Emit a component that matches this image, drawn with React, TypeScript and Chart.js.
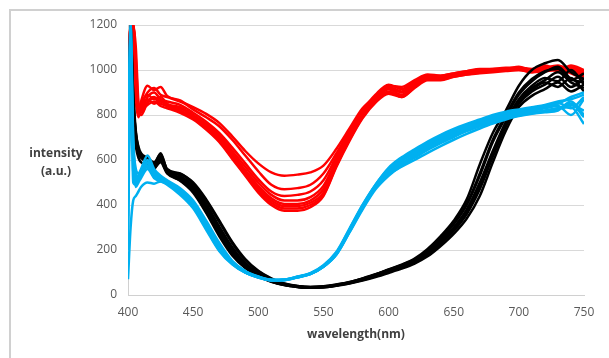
import { useEffect, useRef } from "react";
import { Chart, registerables } from "chart.js";

Chart.register(...registerables);

// Wavelength samples (nm)
const wavelengths = [400, 402, 404, 406, 408, 410, 415, 420, 425, 430, 440, 450, 460, 470, 480, 490, 500, 510, 520, 530, 540, 550, 560, 570, 580, 590, 600, 610, 620, 630, 640, 650, 660, 670, 680, 690, 700, 710, 720, 730, 740, 750];

const xTitle = "wavelength(nm)";
const yTitleLines = ["intensity", "(a.u.)"];

// Red group
const red1 = [620, 1050, 1200, 1000, 830, 850, 900, 920, 890, 880, 860, 835, 805, 765, 705, 640, 585, 545, 530, 535, 545, 575, 650, 740, 830, 880, 920, 900, 935, 965, 970, 980, 990, 995, 1000, 1005, 1010, 1000, 1015, 1010, 1005, 990];
const red2 = [900, 1200, 1150, 880, 810, 860, 930, 910, 925, 885, 865, 825, 790, 750, 690, 620, 550, 490, 470, 475, 490, 540, 630, 730, 820, 890, 935, 915, 950, 975, 975, 985, 995, 1000, 1005, 1010, 1010, 1005, 1020, 1000, 1015, 985];
const red3 = [700, 980, 1200, 1100, 860, 820, 880, 900, 870, 860, 845, 810, 770, 720, 655, 585, 515, 460, 440, 445, 460, 510, 615, 720, 815, 875, 925, 905, 945, 970, 965, 980, 990, 1000, 995, 1000, 1005, 995, 1010, 1020, 995, 970];
const red4 = [800, 1100, 1200, 950, 800, 840, 890, 870, 880, 850, 835, 800, 760, 710, 640, 570, 500, 445, 420, 420, 435, 485, 600, 710, 805, 870, 930, 925, 955, 980, 975, 985, 995, 1005, 1005, 1005, 1015, 1000, 1000, 1015, 1010, 995];
const red5 = [650, 1000, 1200, 1050, 840, 810, 860, 880, 860, 845, 830, 795, 750, 700, 630, 555, 485, 430, 405, 405, 420, 470, 590, 700, 800, 870, 915, 890, 935, 965, 960, 975, 985, 990, 995, 1000, 1000, 990, 1005, 1000, 990, 975];
const red6 = [950, 1200, 1100, 870, 790, 830, 870, 850, 865, 845, 820, 790, 745, 690, 620, 545, 475, 420, 395, 395, 410, 455, 580, 695, 795, 865, 905, 880, 925, 960, 965, 975, 985, 995, 1000, 1000, 1010, 1000, 1010, 995, 1020, 1000];
const red7 = [750, 1150, 1200, 980, 820, 800, 855, 875, 850, 840, 815, 785, 740, 685, 610, 535, 465, 410, 385, 385, 400, 445, 575, 690, 790, 860, 900, 885, 930, 965, 960, 970, 980, 990, 995, 1005, 1005, 995, 1000, 1010, 985, 960];
const red8 = [850, 1200, 1180, 900, 800, 820, 845, 860, 840, 830, 810, 780, 735, 680, 605, 530, 455, 400, 375, 375, 390, 440, 570, 685, 785, 855, 895, 880, 920, 955, 955, 970, 980, 985, 990, 995, 1000, 990, 995, 1000, 1000, 980];

// Black group
const black1 = [560, 1200, 880, 720, 660, 630, 610, 590, 625, 560, 540, 495, 420, 325, 230, 155, 105, 72, 50, 40, 36, 38, 46, 58, 74, 92, 114, 135, 162, 205, 262, 330, 425, 580, 720, 820, 930, 1000, 1030, 1045, 990, 960];
const black2 = [600, 1000, 800, 680, 630, 610, 595, 585, 600, 555, 530, 485, 405, 305, 212, 142, 96, 67, 48, 39, 35, 37, 45, 56, 72, 90, 111, 131, 157, 197, 250, 315, 400, 530, 680, 790, 890, 950, 990, 1015, 960, 945];
const black3 = [500, 1150, 900, 730, 650, 615, 590, 570, 595, 545, 515, 470, 385, 285, 195, 132, 90, 63, 46, 37, 33, 35, 43, 54, 68, 86, 106, 126, 150, 186, 235, 295, 372, 490, 630, 760, 860, 920, 955, 990, 945, 920];
const black4 = [520, 950, 820, 700, 640, 620, 600, 580, 615, 552, 522, 478, 395, 295, 203, 137, 93, 65, 47, 38, 34, 36, 44, 55, 70, 88, 108, 128, 152, 190, 240, 300, 380, 500, 640, 770, 870, 930, 965, 950, 1000, 935];
const black5 = [580, 1100, 760, 660, 610, 590, 575, 565, 590, 540, 510, 460, 370, 270, 182, 124, 85, 60, 44, 36, 32, 34, 42, 52, 66, 83, 102, 121, 145, 180, 228, 285, 360, 470, 615, 750, 850, 905, 935, 970, 925, 960];
const black6 = [540, 1050, 870, 710, 645, 618, 598, 560, 605, 548, 515, 465, 378, 278, 188, 128, 87, 61, 45, 37, 33, 35, 43, 54, 69, 86, 106, 126, 149, 184, 232, 290, 365, 480, 620, 755, 855, 910, 945, 925, 965, 905];
const black7 = [500, 900, 800, 690, 635, 612, 592, 578, 630, 558, 538, 500, 425, 332, 236, 160, 108, 74, 51, 40, 36, 39, 47, 57, 73, 91, 112, 133, 158, 198, 252, 318, 405, 540, 690, 800, 900, 960, 995, 1005, 955, 985];
const black8 = [560, 1000, 830, 700, 640, 615, 595, 572, 598, 546, 508, 455, 365, 262, 176, 120, 83, 59, 44, 36, 32, 34, 41, 51, 64, 80, 98, 117, 140, 172, 218, 272, 340, 440, 590, 730, 835, 885, 915, 945, 905, 935];

// Blue group
const blue1 = [70, 300, 420, 440, 460, 480, 500, 495, 505, 490, 445, 385, 290, 196, 136, 99, 78, 66, 67, 79, 93, 125, 180, 280, 385, 475, 540, 585, 620, 655, 685, 712, 738, 758, 778, 792, 802, 812, 820, 830, 835, 760];
const blue2 = [500, 1200, 700, 560, 540, 560, 620, 560, 530, 510, 475, 420, 330, 232, 152, 106, 82, 68, 69, 82, 97, 132, 192, 295, 400, 490, 560, 605, 640, 675, 705, 730, 755, 775, 795, 810, 820, 830, 840, 850, 880, 900];
const blue3 = [300, 1100, 600, 520, 510, 530, 570, 540, 520, 505, 462, 406, 310, 210, 142, 102, 80, 67, 68, 80, 95, 128, 186, 288, 392, 482, 548, 595, 628, 662, 692, 718, 742, 762, 782, 798, 808, 818, 830, 840, 800, 870];
const blue4 = [450, 900, 650, 480, 500, 520, 560, 520, 505, 495, 452, 395, 298, 200, 138, 100, 78, 65, 66, 78, 93, 125, 180, 278, 380, 470, 530, 575, 610, 645, 675, 702, 728, 750, 770, 785, 798, 808, 815, 825, 850, 790];
const blue5 = [350, 1200, 550, 510, 530, 550, 590, 545, 525, 508, 465, 410, 314, 213, 144, 103, 80, 67, 68, 81, 96, 130, 188, 290, 395, 486, 555, 600, 635, 670, 700, 725, 750, 770, 790, 805, 815, 825, 835, 855, 830, 880];
const blue6 = [200, 1000, 500, 490, 515, 535, 575, 525, 512, 500, 458, 403, 308, 208, 140, 101, 79, 66, 67, 79, 94, 126, 182, 282, 386, 476, 540, 582, 615, 650, 680, 706, 732, 754, 774, 790, 800, 810, 818, 830, 845, 820];
const blue7 = [480, 1150, 680, 540, 525, 545, 600, 550, 522, 506, 470, 415, 322, 224, 148, 105, 81, 67, 68, 80, 96, 129, 187, 292, 398, 490, 565, 612, 648, 682, 712, 738, 760, 780, 800, 815, 825, 835, 845, 860, 870, 890];
const blue8 = [420, 1050, 620, 505, 520, 540, 585, 535, 518, 502, 460, 404, 306, 207, 141, 101, 79, 66, 67, 79, 94, 127, 184, 286, 388, 478, 536, 570, 600, 632, 662, 690, 716, 740, 762, 780, 795, 805, 812, 820, 860, 800];

const redSeries = [red1, red2, red3, red4, red5, red6, red7, red8];
const blackSeries = [black1, black2, black3, black4, black5, black6, black7, black8];
const blueSeries = [blue1, blue2, blue3, blue4, blue5, blue6, blue7, blue8];

const RED = "#FF0000";
const BLACK = "#000000";
const BLUE = "#00B0F0";

export default function App() {
  const ref = useRef<HTMLCanvasElement>(null);

  useEffect(() => {
    if (!ref.current) return;
    const mk = (arr: number[], color: string) => ({
      data: arr.map((v, i) => ({ x: wavelengths[i], y: v })),
      borderColor: color,
      backgroundColor: color,
      borderWidth: 2.5,
      pointRadius: 0,
      fill: false,
      cubicInterpolationMode: "monotone" as const,
    });
    // dataset 0 is drawn on top
    const datasets = [
      ...blueSeries.map((s) => mk(s, BLUE)),
      ...blackSeries.map((s) => mk(s, BLACK)),
      ...redSeries.map((s) => mk(s, RED)),
    ];

    const titles = {
      id: "titles",
      afterDraw(chart: any) {
        const ctx = chart.ctx;
        const a = chart.chartArea;
        ctx.save();
        ctx.fillStyle = "#404040";
        ctx.font = 'bold 12px "Open Sans"';
        ctx.textAlign = "center";
        ctx.textBaseline = "middle";
        ctx.fillText(xTitle, (a.left + a.right) / 2, 335);
        ctx.fillText(yTitleLines[0], 56, 154);
        ctx.fillText(yTitleLines[1], 56, 172);
        ctx.restore();
      },
    };

    const chart = new Chart(ref.current, {
      type: "line",
      data: { datasets },
      options: {
        responsive: false,
        animation: false,
        layout: { padding: { left: 0, right: 25, top: 25, bottom: 0 } },
        plugins: { legend: { display: false }, tooltip: { enabled: false } },
        scales: {
          x: {
            type: "linear",
            min: 400,
            max: 750,
            ticks: {
              stepSize: 50,
              color: "#595959",
              font: { family: '"Open Sans"', size: 12 },
              padding: 10,
              maxRotation: 0,
              callback: (v: any) => String(v),
            },
            grid: { display: false, drawTicks: false },
            border: { display: true, color: "#d0d0d0", width: 1 },
            afterFit: (s: any) => {
              s.height = 63;
            },
          },
          y: {
            min: 0,
            max: 1200,
            ticks: {
              stepSize: 200,
              color: "#595959",
              font: { family: '"Open Sans"', size: 12 },
              padding: 11,
              callback: (v: any) => String(v),
            },
            grid: { color: "#d9d9d9", drawTicks: false, lineWidth: 1 },
            border: { display: true, color: "#d0d0d0", width: 1 },
            afterFit: (s: any) => {
              s.width = 128;
            },
          },
        },
      },
      plugins: [titles],
    });
    return () => chart.destroy();
  }, []);

  return (
    <div style={{ position: "absolute", left: 0, top: 0, width: 609, height: 358, background: "#fff", overflow: "hidden" }}>
      <div
        style={{
          position: "absolute",
          left: 9,
          top: 9,
          width: 600,
          height: 349,
          borderLeft: "2px solid #d0d0d0",
          borderTop: "2px solid #d0d0d0",
          boxSizing: "border-box",
        }}
      />
      <canvas ref={ref} width={609} height={358} style={{ position: "absolute", left: 0, top: 0 }} />
    </div>
  );
}
